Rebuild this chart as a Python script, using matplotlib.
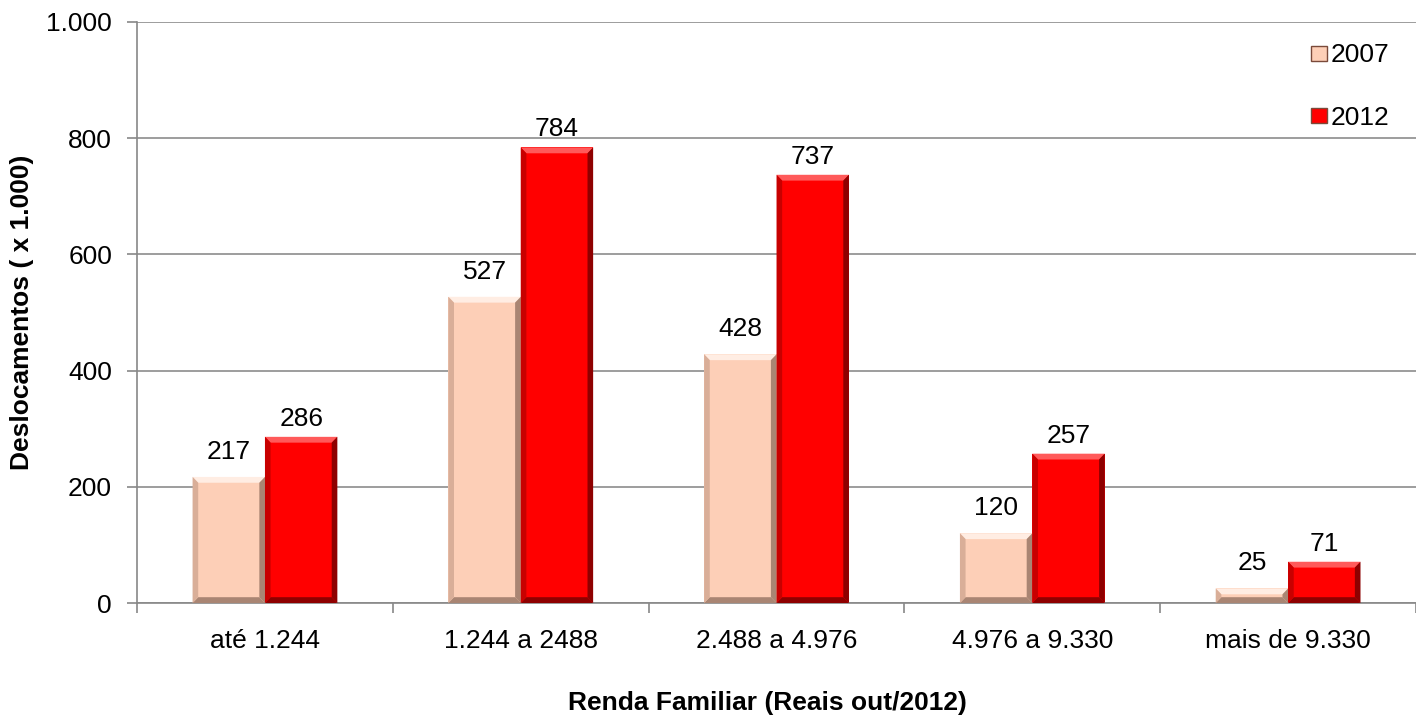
import matplotlib
matplotlib.use("Agg")
import matplotlib.pyplot as plt
from matplotlib.patches import Polygon
import numpy as np

plt.rcParams['font.family'] = ['Liberation Sans', 'DejaVu Sans']

categories = ['até 1.244', '1.244 a 2488', '2.488 a 4.976', '4.976 a 9.330', 'mais de 9.330']
vals_2007 = [217, 527, 428, 120, 25]
vals_2012 = [286, 784, 737, 257, 71]

col_2007 = '#FDCFB7'
col_2012 = '#FF0000'
light = {'2007': '#FFEDE3', '2012': '#FF5A5A'}
dark = {'2007': '#A98573', '2012': '#8E0000'}
mid = {'2007': '#D9AE98', '2012': '#C80000'}

fs = 19

fig = plt.figure(figsize=(14.16, 7.16), dpi=100)
ax = fig.add_axes([0.0968, 0.1578, 0.9032, 0.8115])

x = np.arange(len(categories))
w = 0.283
bw_x = 0.022   # bevel width in data units (x)
bw_y = 10.0    # bevel width in data units (y)


def bevel(ax, xl, h, key):
    xr = xl + w
    # top
    ax.add_patch(Polygon([(xl, h), (xr, h), (xr - bw_x, h - bw_y), (xl + bw_x, h - bw_y)],
                         closed=True, facecolor=light[key], edgecolor='none', zorder=3))
    # right
    ax.add_patch(Polygon([(xr, h), (xr, 0), (xr - bw_x, bw_y), (xr - bw_x, h - bw_y)],
                         closed=True, facecolor=dark[key], edgecolor='none', zorder=3))
    # bottom
    ax.add_patch(Polygon([(xl, 0), (xr, 0), (xr - bw_x, bw_y), (xl + bw_x, bw_y)],
                         closed=True, facecolor=dark[key], edgecolor='none', zorder=3))
    # left
    ax.add_patch(Polygon([(xl, 0), (xl, h), (xl + bw_x, h - bw_y), (xl + bw_x, bw_y)],
                         closed=True, facecolor=mid[key], edgecolor='none', zorder=3))


b1 = ax.bar(x - w / 2, vals_2007, w, color=col_2007, label='2007', zorder=2)
b2 = ax.bar(x + w / 2, vals_2012, w, color=col_2012, label='2012', zorder=2)

for i in range(len(categories)):
    bevel(ax, x[i] - w, vals_2007[i], '2007')
    bevel(ax, x[i], vals_2012[i], '2012')

for i in range(len(categories)):
    ax.annotate(str(vals_2007[i]), (x[i] - w / 2, vals_2007[i]), xytext=(0, 18),
                textcoords='offset points', ha='center', va='center', fontsize=fs)
    ax.annotate(str(vals_2012[i]), (x[i] + w / 2, vals_2012[i]), xytext=(0, 13),
                textcoords='offset points', ha='center', va='center', fontsize=fs)

ax.set_xlim(-0.5, len(categories) - 0.5)
ax.set_ylim(0, 1000)
ax.set_yticks([0, 200, 400, 600, 800, 1000])
ax.set_yticklabels(['0', '200', '400', '600', '800', '1.000'], fontsize=fs)
ax.set_xticks(x)
ax.set_xticklabels(categories, fontsize=fs)
ax.tick_params(axis='x', length=0, pad=19)
ax.set_xticks(np.arange(len(categories) + 1) - 0.5, minor=True)
ax.tick_params(axis='x', which='minor', length=7, color='#888888', width=1.2)
ax.tick_params(axis='y', length=7, color='#888888', width=1.2, pad=11)

ax.yaxis.grid(True, color='#8c8c8c', linewidth=1.2, zorder=0)
ax.set_axisbelow(True)
for s in ['top', 'right']:
    ax.spines[s].set_visible(False)
ax.spines['left'].set_color('#888888')
ax.spines['bottom'].set_color('#888888')
ax.spines['left'].set_linewidth(1.2)
ax.spines['bottom'].set_linewidth(1.2)

ax.set_ylabel('Deslocamentos ( x 1.000)', fontsize=fs, fontweight='bold', va='center')
ax.yaxis.set_label_coords(-0.0898, 0.5)
ax.set_xlabel('Renda Familiar (Reais out/2012)', fontsize=fs, fontweight='bold', va='center')
ax.xaxis.set_label_coords(0.493, -0.172)

leg = ax.legend(loc='upper right', bbox_to_anchor=(0.998, 1.004), frameon=False, fontsize=fs,
                handlelength=0.62, handleheight=0.5, handletextpad=0.15, labelspacing=1.45)
for h in leg.legend_handles:
    h.set_edgecolor('#7a4a3a')

fig.savefig('out.png', dpi=100)
